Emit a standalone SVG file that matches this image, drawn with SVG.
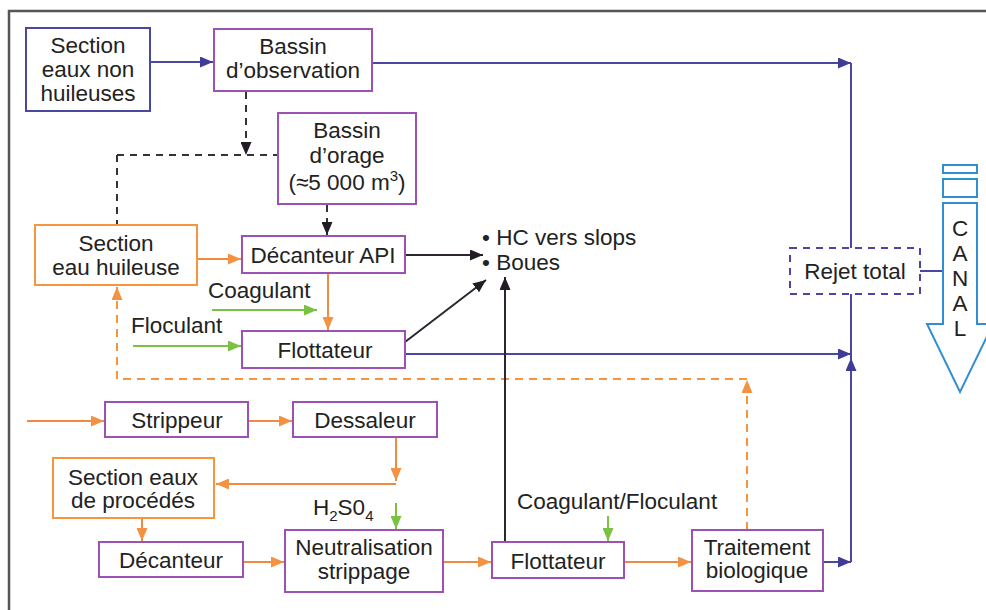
<svg xmlns="http://www.w3.org/2000/svg" width="986" height="610" viewBox="0 0 986 610">
  <style>
    .t { font-family: "Liberation Sans", Arial, Helvetica, sans-serif; font-size: 22.5px; fill: #222222; text-anchor: middle; }
    .s { text-anchor: start; }
    .box { fill: #ffffff; stroke-width: 2; }
    .pur { stroke: #9b52b4; }
    .ind { stroke: #4a47a3; }
    .org { stroke: #f6953e; }
    .c { fill: none; stroke-width: 2; }
    .cb { stroke: #4a47a3; }
    .co { stroke: #ef8a45; }
    .cg { stroke: #7cc242; }
    .ck { stroke: #2d2530; }
    .dk { stroke: #333333; stroke-dasharray: 7 6; }
    .do { stroke: #f6953e; stroke-dasharray: 8 6; }
  </style>
  <defs>
    <marker id="ah-b" viewBox="0 0 13 11" refX="13" refY="5.5" markerWidth="13" markerHeight="11" markerUnits="userSpaceOnUse" orient="auto"><path d="M0,0 L13,5.5 L0,11 z" fill="#3f3c98"/></marker>
    <marker id="ah-o" viewBox="0 0 13 11" refX="13" refY="5.5" markerWidth="13" markerHeight="11" markerUnits="userSpaceOnUse" orient="auto"><path d="M0,0 L13,5.5 L0,11 z" fill="#f39240"/></marker>
    <marker id="ah-g" viewBox="0 0 13 11" refX="13" refY="5.5" markerWidth="13" markerHeight="11" markerUnits="userSpaceOnUse" orient="auto"><path d="M0,0 L13,5.5 L0,11 z" fill="#7cc242"/></marker>
    <marker id="ah-k" viewBox="0 0 13 11" refX="13" refY="5.5" markerWidth="13" markerHeight="11" markerUnits="userSpaceOnUse" orient="auto"><path d="M0,0 L13,5.5 L0,11 z" fill="#231c26"/></marker>
  </defs>

  <!-- outer frame -->
  <path d="M9,610 V11 H986" fill="none" stroke="#555555" stroke-width="2.5"/>

  <!-- connectors -->
  <g id="connectors">
    <path class="c cb" d="M150,62 H213" marker-end="url(#ah-b)"/>
    <path class="c cb" d="M372,63 H851" marker-end="url(#ah-b)"/>
    <path class="c cb" d="M851,63 V248"/>
    <path class="c dk" d="M246,92 V155" marker-end="url(#ah-k)"/>
    <path class="c dk" d="M117,155 H278"/>
    <path class="c dk" d="M117,155 V225"/>
    <path class="c dk" d="M327,205 V235" marker-end="url(#ah-k)"/>
    <path class="c co" d="M197,259 H241" marker-end="url(#ah-o)"/>
    <path class="c co" d="M328,273 V330" marker-end="url(#ah-o)"/>
    <path class="c cg" d="M212,310 H317" marker-end="url(#ah-g)"/>
    <path class="c cg" d="M133,346 H241" marker-end="url(#ah-g)"/>
    <path class="c ck" d="M405,255 H483" marker-end="url(#ah-k)"/>
    <path class="c ck" d="M405,342 L486,280" marker-end="url(#ah-k)"/>
    <path class="c cb" d="M405,354 H851" marker-end="url(#ah-b)"/>
    <path class="c cb" d="M851,294 V358"/>
    <path class="c cb" d="M851,562 V358" marker-end="url(#ah-b)"/>
    <path class="c cb" d="M823,562 H851" marker-end="url(#ah-b)"/>
    <path class="c cb" d="M920,271 H943"/>
    <path class="c do" d="M747,530 V380" marker-end="url(#ah-o)"/>
    <path class="c do" d="M747,379 H117"/>
    <path class="c do" d="M117,379 V287" marker-end="url(#ah-o)"/>
    <path class="c co" d="M27,421 H104" marker-end="url(#ah-o)"/>
    <path class="c co" d="M248,421 H292" marker-end="url(#ah-o)"/>
    <path class="c co" d="M396,437 V481" marker-end="url(#ah-o)"/>
    <path class="c co" d="M396,484 H216" marker-end="url(#ah-o)"/>
    <path class="c co" d="M142,518 V541" marker-end="url(#ah-o)"/>
    <path class="c co" d="M243,562 H284" marker-end="url(#ah-o)"/>
    <path class="c co" d="M443,562 H491" marker-end="url(#ah-o)"/>
    <path class="c co" d="M624,562 H691" marker-end="url(#ah-o)"/>
    <path class="c cg" d="M396,503 V529" marker-end="url(#ah-g)"/>
    <path class="c cg" d="M608,516 V541" marker-end="url(#ah-g)"/>
    <path class="c ck" d="M505,542 V277" marker-end="url(#ah-k)"/>
  </g>

  <!-- nodes -->
  <g id="n-section-non-huileuses">
    <rect class="box ind" x="26" y="28" width="124" height="83"/>
    <text class="t" x="88" y="53">Section</text>
    <text class="t" x="88" y="77">eaux non</text>
    <text class="t" x="88" y="101">huileuses</text>
  </g>
  <g id="n-bassin-observation">
    <rect class="box pur" x="214" y="29" width="158" height="62"/>
    <text class="t" x="293" y="54">Bassin</text>
    <text class="t" x="293" y="78">d’observation</text>
  </g>
  <g id="n-bassin-orage">
    <rect class="box pur" x="278" y="113" width="138" height="91"/>
    <text class="t" x="347" y="138">Bassin</text>
    <text class="t" x="347" y="163">d’orage</text>
    <text class="t" x="347" y="190">(≈5 000 m<tspan font-size="15" dy="-9">3</tspan><tspan dy="9">)</tspan></text>
  </g>
  <g id="n-section-eau-huileuse">
    <rect class="box org" x="35" y="225" width="162" height="60"/>
    <text class="t" x="116" y="251">Section</text>
    <text class="t" x="116" y="275">eau huileuse</text>
  </g>
  <g id="n-decanteur-api">
    <rect class="box pur" x="242" y="236" width="163" height="37"/>
    <text class="t" x="323" y="263">Décanteur API</text>
  </g>
  <g id="n-flottateur-1">
    <rect class="box pur" x="242" y="331" width="163" height="37"/>
    <text class="t" x="325" y="358">Flottateur</text>
  </g>
  <g id="l-coagulant">
    <text class="t s" x="208" y="298">Coagulant</text>
  </g>
  <g id="l-floculant">
    <text class="t s" x="131" y="333">Floculant</text>
  </g>
  <g id="n-sorties">
    <text class="t s" x="482" y="245">• HC vers slops</text>
    <text class="t s" x="482" y="270">• Boues</text>
  </g>
  <g id="n-rejet-total">
    <rect x="790" y="248" width="130" height="46" fill="#ffffff" stroke="#4a47a3" stroke-width="2" stroke-dasharray="7 6"/>
    <text class="t" x="855" y="279">Rejet total</text>
  </g>
  <g id="n-canal">
    <rect x="943" y="165" width="34" height="8" fill="#ffffff" stroke="#2f8fd0" stroke-width="2"/>
    <rect x="943" y="179" width="34" height="18" fill="#ffffff" stroke="#2f8fd0" stroke-width="2"/>
    <path d="M943,203 H977 V324 H993 L960,392 L927,324 H943 Z" fill="#ffffff" stroke="#2f8fd0" stroke-width="2"/>
    <text class="t" x="960" y="236">C</text>
    <text class="t" x="960" y="261">A</text>
    <text class="t" x="960" y="286">N</text>
    <text class="t" x="960" y="311">A</text>
    <text class="t" x="960" y="336">L</text>
  </g>
  <g id="n-strippeur">
    <rect class="box pur" x="105" y="402" width="143" height="35"/>
    <text class="t" x="177" y="428">Strippeur</text>
  </g>
  <g id="n-dessaleur">
    <rect class="box pur" x="293" y="402" width="144" height="35"/>
    <text class="t" x="365" y="428">Dessaleur</text>
  </g>
  <g id="n-section-eaux-procedes">
    <rect class="box org" x="53" y="458" width="161" height="60"/>
    <text class="t" x="133" y="485">Section eaux</text>
    <text class="t" x="133" y="508">de procédés</text>
  </g>
  <g id="n-decanteur">
    <rect class="box pur" x="99" y="542" width="144" height="35"/>
    <text class="t" x="171" y="568">Décanteur</text>
  </g>
  <g id="n-neutralisation">
    <rect class="box pur" x="285" y="530" width="158" height="62"/>
    <text class="t" x="364" y="555">Neutralisation</text>
    <text class="t" x="364" y="579">strippage</text>
  </g>
  <g id="l-h2so4">
    <text class="t s" x="313" y="515">H<tspan font-size="15" dy="6">2</tspan><tspan dy="-6">S0</tspan><tspan font-size="15" dy="6">4</tspan></text>
  </g>
  <g id="n-flottateur-2">
    <rect class="box pur" x="492" y="542" width="132" height="36"/>
    <text class="t" x="558" y="569">Flottateur</text>
  </g>
  <g id="l-coagulant-floculant">
    <text class="t s" x="517" y="509">Coagulant/Floculant</text>
  </g>
  <g id="n-traitement-biologique">
    <rect class="box pur" x="692" y="530" width="131" height="61"/>
    <text class="t" x="757" y="555">Traitement</text>
    <text class="t" x="757" y="578">biologique</text>
  </g>
</svg>
